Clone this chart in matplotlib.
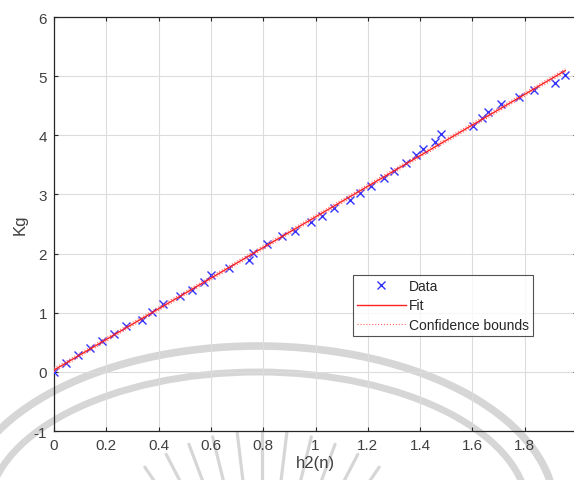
import numpy as np
import matplotlib
matplotlib.use("Agg")
import matplotlib.pyplot as plt
from matplotlib.patches import Ellipse

# ---- data ----
h2_n = [0.000, 0.045, 0.092, 0.139, 0.184, 0.231, 0.275, 0.338, 0.374, 0.418,
        0.482, 0.529, 0.574, 0.599, 0.670, 0.744, 0.762, 0.813, 0.871, 0.922,
        0.983, 1.025, 1.070, 1.131, 1.171, 1.211, 1.263, 1.301, 1.346, 1.384,
        1.411, 1.457, 1.481, 1.601, 1.636, 1.660, 1.711, 1.779, 1.836, 1.915,
        1.955]
kg = [0.00, 0.15, 0.28, 0.40, 0.53, 0.64, 0.77, 0.88, 1.02, 1.15,
      1.28, 1.39, 1.52, 1.64, 1.76, 1.89, 2.01, 2.16, 2.29, 2.39,
      2.53, 2.64, 2.77, 2.90, 3.02, 3.15, 3.28, 3.40, 3.53, 3.66,
      3.77, 3.89, 4.02, 4.16, 4.29, 4.40, 4.53, 4.65, 4.77, 4.89,
      5.02]
fit_slope = 2.59
fit_intercept = 0.03
conf_halfwidth = 0.03

xticks = [0, 0.2, 0.4, 0.6, 0.8, 1, 1.2, 1.4, 1.6, 1.8, 2]
xticklabels = ["0", "0.2", "0.4", "0.6", "0.8", "1", "1.2", "1.4", "1.6", "1.8", "2"]
yticks = [-1, 0, 1, 2, 3, 4, 5, 6]
yticklabels = ["-1", "0", "1", "2", "3", "4", "5", "6"]

plt.rcParams['font.family'] = ['Liberation Sans', 'DejaVu Sans']
W, H = 574, 481
fig = plt.figure(figsize=(W / 100, H / 100), dpi=100)
ax = fig.add_axes([54 / W, 1 - 432 / H, (577 - 54) / W, (432 - 18) / H])
ax.patch.set_alpha(0)
ax.set_zorder(1)

dark = '#262626'
xs = np.array(h2_n)
xfit = np.linspace(xs.min(), xs.max(), 200)
yfit = fit_slope * xfit + fit_intercept

ax.plot(xs, kg, 'x', color='#3333ff', markersize=6, markeredgewidth=1.0,
        label='Data', zorder=3)
ax.plot(xfit, yfit, '-', color='#ff2020', lw=1.0, label='Fit', zorder=4)
ax.plot(xfit, yfit + conf_halfwidth, ':', color='#ff6060', lw=0.8,
        label='Confidence bounds', zorder=4)
ax.plot(xfit, yfit - conf_halfwidth, ':', color='#ff6060', lw=0.8, zorder=4)

ax.set_xlim(0, 2)
ax.set_ylim(-1, 6)
ax.set_xticks(xticks)
ax.set_xticklabels(xticklabels)
ax.set_yticks(yticks)
ax.set_yticklabels(yticklabels)
ax.grid(True, color='#dcdcdc', lw=0.8)
ax.set_axisbelow(True)
ax.tick_params(direction='in', top=True, right=True, length=3, width=0.8,
               colors=dark, labelsize=11, labelcolor='#404040', pad=5)
for s in ax.spines.values():
    s.set_color(dark)
    s.set_linewidth(0.9)
ax.set_xlabel('h2(n)', fontsize=12, color='#404040', labelpad=2)
ax.set_ylabel('Kg', fontsize=12, color='#404040', labelpad=4)

leg = ax.legend(loc='upper left', bbox_to_anchor=((353 - 54) / 523, (432 - 276) / 414),
                fontsize=10, frameon=True, fancybox=False, borderpad=0.3,
                handlelength=3.5, handletextpad=0.25, labelspacing=0.38,
                borderaxespad=0)
leg.get_frame().set_edgecolor(dark)
leg.get_frame().set_linewidth(0.8)
for t in leg.get_texts():
    t.set_color('#262626')

# ---- faint watermark (arcs and rays) in figure pixel coordinates ----
def fx(px):
    return px / W

def fy(py):
    return 1 - py / H

wmc = '#d6d6d6'
wm = dict(transform=fig.transFigure, fill=False, edgecolor=wmc, zorder=-1)
fig.patches.append(Ellipse((fx(258), fy(512)), 2 * 297 / W, 2 * 165 / H,
                           lw=5.5, **wm))
fig.patches.append(Ellipse((fx(258), fy(513)), 2 * 270 / W, 2 * 140 / H,
                           lw=5.0, **wm))
cx, cy = 262, 640
for ang in np.linspace(-48, 48, 15):
    t = np.deg2rad(ang)
    r1, r2 = 208, 150
    x1, y1 = cx + r1 * np.sin(t), cy - r1 * np.cos(t)
    x2, y2 = cx + r2 * np.sin(t), cy - r2 * np.cos(t)
    fig.lines.append(plt.Line2D([fx(x1), fx(x2)], [fy(y1), fy(y2)],
                                transform=fig.transFigure, color=wmc,
                                lw=2.3, zorder=-1, solid_capstyle='round'))

fig.savefig('out.png', dpi=100)
